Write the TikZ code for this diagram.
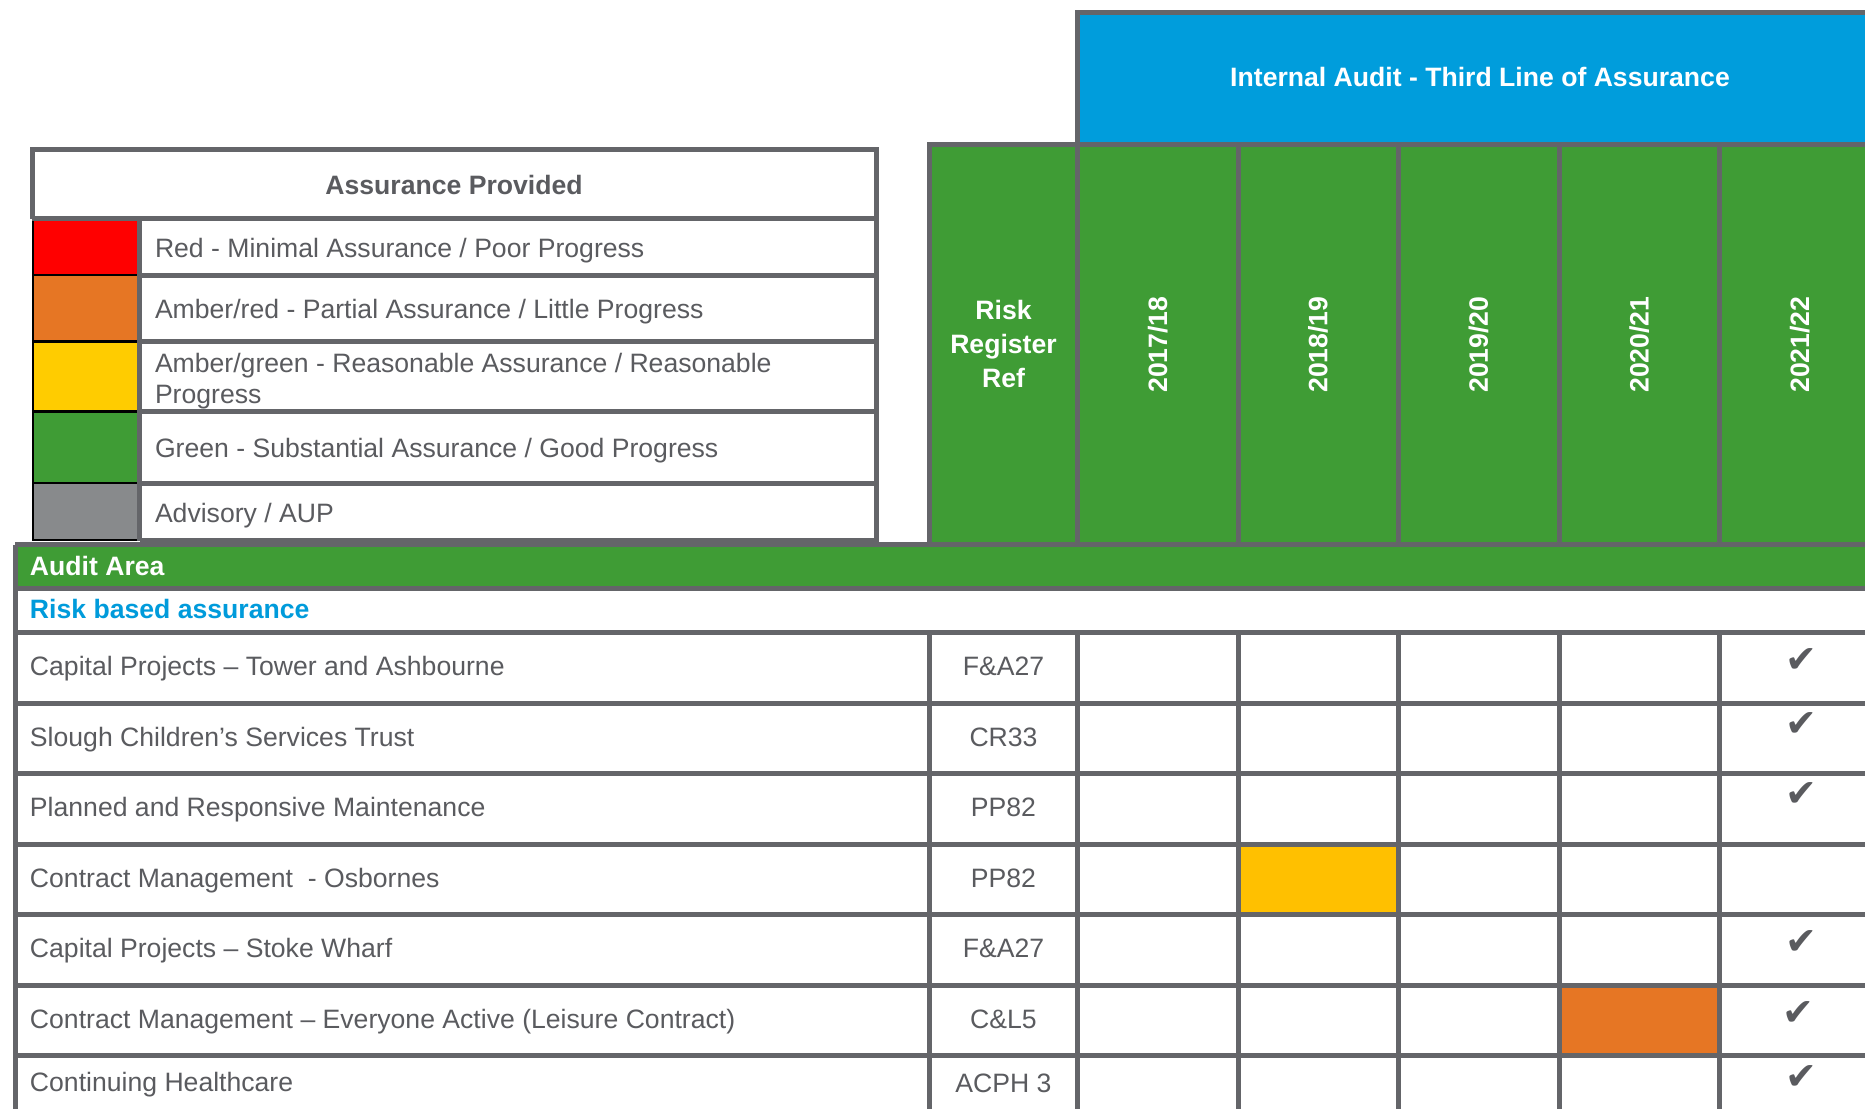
\documentclass[tikz,border=0pt]{standalone}
\usepackage{fontspec}
\setmainfont{Liberation Sans}
\newfontfamily\symfont{DejaVu Sans}
\definecolor{lineg}{HTML}{646569}
\definecolor{hgreen}{HTML}{3F9C35}
\definecolor{hblue}{HTML}{009DDC}
\definecolor{txtg}{HTML}{5A5B5F}
\definecolor{lred}{HTML}{FF0000}
\definecolor{lorange}{HTML}{E67624}
\definecolor{lyellow}{HTML}{FFCC00}
\definecolor{lgrey}{HTML}{888A8C}
\definecolor{cyellow}{HTML}{FFC000}
\definecolor{rbblue}{HTML}{009BDB}
\tikzset{
  gridline/.style={draw=lineg, line width=2.5pt},
  swline/.style={draw=black, line width=1.3pt},
  body/.style={font=\fontsize{13.3}{15.5}\selectfont, text=txtg, inner sep=0pt, outer sep=0pt},
  bhead/.style={font=\bfseries\fontsize{13.3}{17}\selectfont, text=white, inner sep=0pt, outer sep=0pt},
  ghead/.style={font=\bfseries\fontsize{13.3}{17}\selectfont, text=txtg, inner sep=0pt, outer sep=0pt},
  tick/.style={font=\symfont\fontsize{19}{19}\selectfont, text=txtg, inner sep=0pt},
}
\begin{document}
\begin{tikzpicture}[x=0.5pt,y=-0.5pt]
\useasboundingbox (0,0) rectangle (1865,1109);
\clip (0,0) rectangle (1865,1109);
\fill[white] (0,0) rectangle (1865,1109);

% ---------- backgrounds ----------
\fill[hblue]  (1077.5,12.5) rectangle (1900,144.5);
\fill[hgreen] (929.5,144.5) rectangle (1900,544.5);
\fill[hgreen] (15,544.5) rectangle (1900,588.5);
\fill[lred]    (32,218.5) rectangle (139.5,275);
\fill[lorange] (32,275)   rectangle (139.5,341.5);
\fill[lyellow] (32,341.5) rectangle (139.5,411.5);
\fill[hgreen]  (32,411.5) rectangle (139.5,483);
\fill[lgrey]   (32,483)   rectangle (139.5,540);
\fill[cyellow] (1238,844) rectangle (1398,914.5);
\fill[lorange] (1559,985) rectangle (1719.5,1055.5);

% ---------- legend lines ----------
\draw[swline] (33,218.5) -- (33,541);
\foreach \yy in {275,341.5,411.5,483,540} \draw[swline] (33,\yy) -- (139.5,\yy);
\draw[gridline] (32,218.5) -- (32,149) -- (876.5,149) -- (876.5,540) -- (139.5,540);
\draw[gridline] (32,218.5) -- (876.5,218.5);
\draw[gridline] (139.5,218.5) -- (139.5,541);
\foreach \yy in {275,341.5,411.5,483} \draw[gridline] (139.5,\yy) -- (876.5,\yy);

% ---------- header lines ----------
\draw[gridline] (1077.5,144.5) -- (1077.5,12.5) -- (1900,12.5);
\draw[gridline] (929.5,544.5) -- (929.5,144.5) -- (1900,144.5);
\foreach \xx in {1077.5,1238,1398,1559,1719.5} \draw[gridline] (\xx,144.5) -- (\xx,544.5);

% ---------- table lines ----------
\draw[gridline] (15,1120) -- (15,544.5);
\foreach \yy in {544.5,588.5,632.5,703,773.5,844,914.5,985,1055.5} \draw[gridline] (15,\yy) -- (1900,\yy);
\foreach \xx in {929.5,1077.5,1238,1398,1559,1719.5} \draw[gridline] (\xx,632.5) -- (\xx,1120);

% ---------- texts: headers ----------
\node[bhead, anchor=base] (ia) at (1480,86.8) {Internal Audit - Third Line of Assurance};
\node[ghead, anchor=base] (ap) at (454,194) {Assurance Provided};
\node[bhead, align=center] (rrr) at (1003.5,343.5) {Risk\\Register\\Ref};
\node[bhead, rotate=90] (y1) at (1157.75,344.5) {2017/18};
\node[bhead, rotate=90] (y2) at (1318,344.5) {2018/19};
\node[bhead, rotate=90] (y3) at (1478.5,344.5) {2019/20};
\node[bhead, rotate=90] (y4) at (1639.25,344.5) {2020/21};
\node[bhead, rotate=90] (y5) at (1799.75,344.5) {2021/22};

% ---------- legend texts ----------
\node[body, anchor=base west] (l1) at (155,257.5) {Red - Minimal Assurance / Poor Progress};
\node[body, anchor=base west] (l2) at (155,318.5) {Amber/red - Partial Assurance / Little Progress};
\node[body, anchor=west, align=left] (l3) at (155,381) {Amber/green - Reasonable Assurance / Reasonable\\Progress};
\node[body, anchor=base west] (l4) at (155,457.5) {Green - Substantial Assurance / Good Progress};
\node[body, anchor=base west] (l5) at (155,522) {Advisory / AUP};

% ---------- table texts ----------
\node[bhead, anchor=base west] (aa) at (30,575) {Audit Area};
\node[bhead, anchor=base west, text=rbblue] (rba) at (30,618.5) {Risk based assurance};

\node[body, anchor=base west] (r1) at (30,675.5) {Capital Projects – Tower and Ashbourne};
\node[body, anchor=base west] (r2) at (30,746) {Slough Children’s Services Trust};
\node[body, anchor=base west] (r3) at (30,816.5) {Planned and Responsive Maintenance};
\node[body, anchor=base west] (r4) at (30,887.5) {Contract Management~ - Osbornes};
\node[body, anchor=base west] (r5) at (30,957.5) {Capital Projects – Stoke Wharf};
\node[body, anchor=base west] (r6) at (30,1028) {Contract Management – Everyone Active (Leisure Contract)};
\node[body, anchor=base west] (r7) at (30,1091) {Continuing Healthcare};

\node[body, anchor=base] (f1) at (1003.5,675.5) {F\&A27};
\node[body, anchor=base] (f2) at (1003.5,746) {CR33};
\node[body, anchor=base] (f3) at (1003.5,816.5) {PP82};
\node[body, anchor=base] (f4) at (1003.5,887.5) {PP82};
\node[body, anchor=base] (f5) at (1003.5,957.5) {F\&A27};
\node[body, anchor=base] (f6) at (1003.5,1028) {C\&L5};
\node[body, anchor=base] (f7) at (1003.5,1092) {ACPH 3};

% ---------- ticks ----------
\node[tick] (t1) at (1801,661) {✔};
\node[tick] (t2) at (1801,725) {✔};
\node[tick] (t3) at (1801,795) {✔};
\node[tick] (t5) at (1801,943) {✔};
\node[tick] (t6) at (1798,1013.5) {✔};
\node[tick] (t7) at (1801,1077.5) {✔};
\end{tikzpicture}
\end{document}
